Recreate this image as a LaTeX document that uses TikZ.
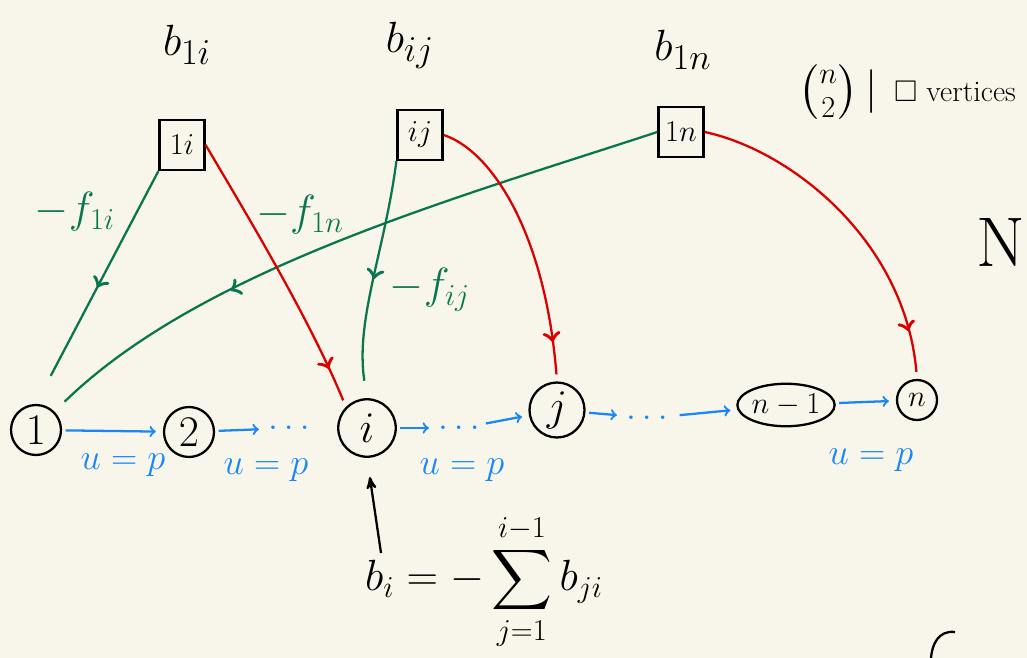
\documentclass[tikz,border=0pt]{standalone}
\usepackage{amsmath}
\usepackage{amssymb}
\usetikzlibrary{arrows}
\usetikzlibrary{calc}
\usetikzlibrary{shapes.geometric}
\usetikzlibrary{decorations.markings}

\definecolor{paper}{RGB}{248,246,234}
\definecolor{flowgreen}{RGB}{10,118,80}
\definecolor{flowred}{RGB}{218,0,0}
\definecolor{flowblue}{RGB}{25,135,250}

\tikzset{
  vert/.style={draw, circle, line width=1.3pt, minimum size=1cm, inner sep=0, font=\fontsize{24}{26}\selectfont},
  pairbox/.style={draw, line width=1.3pt, minimum width=0.9cm, minimum height=1cm, inner sep=1, font=\fontsize{18}{20}\selectfont},
  head/.style={font=\fontsize{30}{32}\selectfont},
  gflow/.style={flowgreen, line width=1.3pt, postaction={decorate},
    decoration={markings, mark=at position #1 with {\arrow[scale=1.6]{to}}}},
  gflow/.default=0.5,
  rflow/.style={flowred, line width=1.3pt, shorten >=4pt, postaction={decorate},
    decoration={markings, mark=at position 0.86 with {\arrow[scale=1.6]{to}}}},
  chain/.style={flowblue, line width=1.3pt, ->, >=to, shorten >=4pt, shorten <=2pt},
  ulabel/.style={text=flowblue, font=\fontsize{22}{24}\selectfont},
  flabel/.style={text=flowgreen, font=\fontsize{26}{28}\selectfont},
  dotsnode/.style={text=flowblue, inner sep=1, font=\fontsize{20}{22}\selectfont}
}

\begin{document}
\begin{tikzpicture}[x=0.02cm, y=-0.02cm]
\fill[paper] (0,0) rectangle (1027,658);
\useasboundingbox (0,0) rectangle (1027,658);

% chain of vertices
\node[vert] (v1) at (36,430) {$1$};
\node[vert] (v2) at (189,432) {$2$};
\node[vert, minimum size=1.15cm] (vi) at (367,428) {$i$};
\node[vert, minimum size=1.1cm] (vj) at (557,410) {$j$};
\node[vert, ellipse, minimum width=1.7cm, minimum height=0.85cm, font=\fontsize{18}{20}\selectfont] (vn1) at (786,405) {$n-1$};
\node[vert, minimum size=0.8cm, font=\fontsize{18}{20}\selectfont] (vn) at (917,400) {$n$};

\node[dotsnode] (d1) at (292,428) {$\dots$};
\node[dotsnode] (d2) at (462,428) {$\dots$};
\node[dotsnode] (d3) at (650,418) {$\dots$};

\draw[chain] (v1) -- (v2);
\draw[chain] (v2) -- (d1);
\draw[chain] (vi) -- (d2);
\draw[chain] (d2) -- (vj);
\draw[chain] (vj) -- (d3);
\draw[chain] (d3) -- (vn1);
\draw[chain] (vn1) -- (vn);

\node[ulabel] (u1) at (123,465) {$u=p$};
\node[ulabel] (u2) at (266,470) {$u=p$};
\node[ulabel] (u3) at (462,470) {$u=p$};
\node[ulabel] (u4) at (871,460) {$u=p$};

% pair vertices
\node[pairbox] (b1i) at (182,145) {$1i$};
\node[pairbox] (bij) at (420,135) {$ij$};
\node[pairbox] (b1n) at (681,132) {$1n$};

\node[head] (h1i) at (187,45) {$b_{1i}$};
\node[head] (hij) at (410,45) {$b_{ij}$};
\node[head] (h1n) at (683,50) {$b_{1n}$};

% green: pair to first index
\draw[gflow, shorten >=18pt] (b1i.south west) -- (v1.north);
\draw[gflow, shorten >=10pt] (bij.south west) .. controls (385,250) and (355,320) .. (vi.north);
\draw[gflow=0.68, shorten >=8pt] (b1n.west) .. controls (450,200) and (200,270) .. (v1.north east);

% red: pair to second index
\draw[rflow] (b1i.east) .. controls (250,220) and (310,320) .. (vi.north west);
\draw[rflow] (bij.east) .. controls (490,150) and (545,230) .. (vj.north);
\draw[rflow] (b1n.east) .. controls (790,150) and (905,240) .. (vn.north);

\node[flabel] (f1i) at (75,212) {$-f_{1i}$};
\node[flabel] (f1n) at (300,215) {$-f_{1n}$};
\node[flabel] (fij) at (430,290) {$-f_{ij}$};

% demand of vertex i
\node[font=\fontsize{24}{26}\selectfont] (bsum) at (484,582) {$\displaystyle b_i = -\sum_{j=1}^{i-1} b_{ji}$};
\coordinate (bstem) at (381,553);
\draw[line width=1.3pt, ->, >=stealth', shorten >=11pt] (bstem) -- (vi.south);

% notes
\node[font=\fontsize{26}{28}\selectfont] (binom) at (838,92) {$\binom{n}{2}\,\vert$};
\node[font=\fontsize{17}{19}\selectfont] (vtext) at (955,92) {$\square$ vertices};
\node[font=\fontsize{40}{42}\selectfont] (bigN) at (1001,243) {N};
\draw[line width=1.3pt] (955,632) .. controls (938,630) and (932,645) .. (931,658);
\end{tikzpicture}
\end{document}
